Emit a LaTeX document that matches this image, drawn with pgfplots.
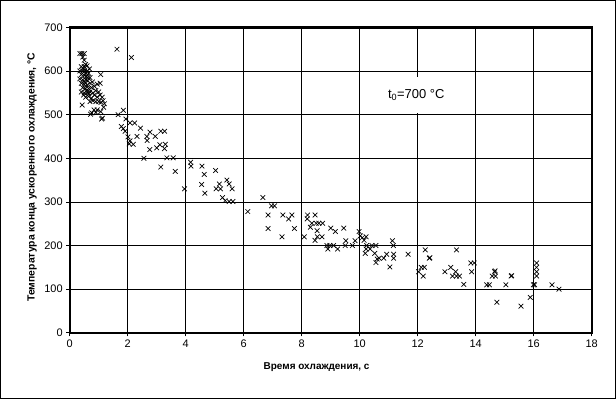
\documentclass[border=0pt]{standalone}
\usepackage{pgfplots}
\pgfplotsset{compat=1.18}
\usepackage{fontspec}
\setmainfont{Liberation Sans}
\begin{document}
\begin{tikzpicture}
\begin{axis}[
  at={(0,0)}, anchor=south west,
  width=522bp, height=305.4bp, scale only axis,
  xmin=0, xmax=18, ymin=0, ymax=700,
  xtick={0,2,...,18}, ytick={0,100,...,700},
  grid=major,
  major grid style={black, line width=0.8bp},
  axis line style={black, line width=2.2bp},
  tick pos=left, tick align=outside,
  major tick length=3.5bp,
  every tick/.style={black, line width=0.8bp},
  /pgf/number format/assume math mode=true,
  ticklabel style={font=\fontsize{11}{12}\selectfont},
  xlabel={Время охлаждения, с},
  ylabel={Температура конца ускоренного охлаждения, °С},
  xlabel style={font=\bfseries\fontsize{10}{11}\selectfont, at={(axis description cs:0.473,-0.111)}, anchor=center},
  ylabel style={font=\bfseries\fontsize{10.4}{11}\selectfont, at={(axis description cs:-0.0722,0.51)}, anchor=center},
  clip=false,
]
\addplot[only marks, mark=x, mark size=3.3bp, black, mark options={line width=0.7bp}] coordinates {
(0.35,640)(0.42,640)(0.5,640)(0.45,632)(0.5,625)(0.55,615)(0.4,610)(0.5,610)(0.6,612)
(0.35,600)(0.45,600)(0.52,600)(0.6,600)(0.68,605)(0.4,592)(0.5,590)(0.58,588)(0.65,595)
(0.35,582)(0.45,580)(0.55,580)(0.62,578)(0.7,585)(0.4,572)(0.5,570)(0.6,568)(0.7,572)
(0.78,575)(0.45,562)(0.55,560)(0.65,560)(0.75,562)(0.85,565)(0.95,570)(1.05,572)
(0.4,552)(0.5,550)(0.6,550)(0.7,552)(0.8,550)(0.9,555)(1.0,552)(0.55,540)(0.65,542)
(0.75,538)(0.85,545)(0.95,540)(1.05,545)(0.7,530)(0.8,532)(0.9,530)(1.0,530)(1.08,528)
(1.15,532)(1.2,525)(1.12,540)(1.07,592)(0.43,522)(0.72,501)(0.76,504)(0.84,511)(0.95,511)
(0.9,505)(1.07,507)(1.13,492)(1.17,517)(1.1,490)
(0.48,605)(0.56,595)(0.62,585)(0.52,575)(0.58,555)(0.48,545)(0.66,548)
(1.63,650)(2.13,631)
(1.67,500)(1.85,510)(1.94,490)(1.78,473)(1.91,462)(1.85,468)(2.08,481)(2.24,481)
(2.01,449)(2.08,440)(2.19,432)(2.05,433)(2.32,450)(2.44,469)(2.56,400)
(2.66,450)(2.67,441)(2.77,460)(2.76,420)(2.95,450)(3.0,424)(3.14,462)(3.27,462)
(3.11,431)(3.14,380)(3.27,422)(3.3,432)(3.35,401)(3.57,401)(3.64,370)
(3.96,330)(4.17,391)(4.18,382)(4.56,382)(4.55,340)(4.64,363)(4.66,320)
(5.03,372)(5.05,330)(5.16,341)(5.2,330)(5.42,350)(5.5,341)(5.27,310)
(5.36,303)(5.5,301)(5.63,301)(5.6,330)
(6.14,278)(6.66,310)(6.84,270)(6.84,239)(6.96,291)(7.06,291)(7.32,220)
(7.35,270)(7.55,261)(7.66,270)(7.75,239)(8.09,220)(8.2,270)(8.46,270)
(8.19,261)(8.3,242)(8.35,251)(8.46,212)(8.54,220)(8.53,234)(8.5,251)(8.59,251)
(8.72,251)(8.7,220)(8.9,192)(8.87,200)(9.0,240)(9.16,232)(8.97,200)(9.1,200)
(9.24,192)(9.45,240)(9.52,211)(9.5,200)(9.75,200)(9.84,211)(9.98,232)(10.02,222)
(10.09,218)(10.22,220)(10.15,212)(10.24,200)(10.22,192)(10.19,182)(10.36,192)(10.42,200)
(10.52,182)(10.56,200)(10.6,169)(10.56,161)(10.67,171)(10.83,171)(10.93,180)
(11.04,151)(11.13,211)(11.16,200)(11.17,180)(11.17,171)(11.67,180)
(12.03,140)(12.12,150)(12.19,130)(12.23,150)(12.26,190)(12.4,171)(12.42,172)
(12.94,140)(13.14,150)(13.2,130)(13.31,140)(13.34,130)(13.34,190)(13.44,130)
(13.59,111)(13.83,160)(13.95,160)(13.86,140)(14.38,110)(14.47,110)
(14.57,130)(14.65,140)(14.67,142)(14.68,130)(14.73,70)(15.04,110)(15.22,130)(15.24,131)
(15.56,61)(15.88,81)(15.99,110)(16.03,110)(16.1,160)(16.1,140)(16.1,130)(16.1,150)
(16.63,110)(16.87,100)
};
\node[fill=white, font=\fontsize{13}{15}\selectfont, minimum height=36bp, inner xsep=5bp] at (axis cs:11.95,545) {t\textsubscript{0}=700 °C};
\end{axis}
\draw[black, line width=1bp] (-69.2bp,-65.7bp) rectangle (545.8bp,332.3bp);
\end{tikzpicture}
\end{document}
